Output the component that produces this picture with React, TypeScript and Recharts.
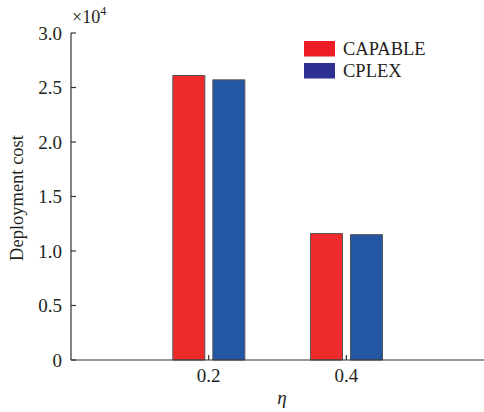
import React from "react";
import { BarChart, Bar, XAxis, YAxis } from "recharts";

const etaValues = [0.2, 0.4];
const capableCost = [26100, 11600];
const cplexCost = [25700, 11500];
const yTicks = [0, 5000, 10000, 15000, 20000, 25000, 30000];
const xTicks = [0.2, 0.4];
const seriesNames = ["CAPABLE", "CPLEX"];

const data = etaValues.map((eta, i) => ({
  eta,
  capable: capableCost[i],
  cplex: cplexCost[i],
}));

const FONT = "Liberation Serif";
const AXIS = "#333333";
const TEXT = "#231f20";
const RED = "#ee2a2a";
const BLUE = "#2357a3";
const LEGEND_COLORS = ["#ed1c24", "#2e3192"];

const YTick = (props: any) => {
  const { x, y, payload } = props;
  const v = payload.value as number;
  const label = v === 0 ? "0" : (v / 10000).toFixed(1);
  return (
    <g>
      <line x1={x} y1={y} x2={x + 5} y2={y} stroke={AXIS} strokeWidth={1.2} />
      <text
        x={x - 9}
        y={y}
        dy="0.35em"
        textAnchor="end"
        fontFamily={FONT}
        fontSize={19}
        fill={TEXT}
      >
        {label}
      </text>
    </g>
  );
};

const XTick = (props: any) => {
  const { x, y, payload } = props;
  return (
    <g>
      <line x1={x} y1={y} x2={x} y2={y - 5} stroke={AXIS} strokeWidth={1.2} />
      <text
        x={x}
        y={y + 22}
        textAnchor="middle"
        fontFamily={FONT}
        fontSize={19}
        fill={TEXT}
      >
        {payload.value.toFixed(1)}
      </text>
    </g>
  );
};

export default function App() {
  return (
    <div style={{ position: "absolute", left: 0, top: 0, width: 484, height: 412 }}>
      <BarChart
        width={484}
        height={412}
        data={data}
        margin={{ top: 33, right: 0, bottom: 0, left: 0 }}
        barSize={32}
        barGap={8}
      >
        <XAxis
          dataKey="eta"
          type="number"
          domain={[0, 0.6]}
          ticks={xTicks}
          height={52}
          axisLine={{ stroke: AXIS, strokeWidth: 1.2 }}
          tickLine={false}
          tickSize={0}
          tickMargin={0}
          tick={<XTick />}
          interval={0}
        />
        <YAxis
          type="number"
          domain={[0, 30000]}
          ticks={yTicks}
          width={71}
          axisLine={{ stroke: AXIS, strokeWidth: 1.2 }}
          tickLine={false}
          tickSize={0}
          tickMargin={0}
          tick={<YTick />}
          interval={0}
        />
        <Bar
          dataKey="capable"
          name={seriesNames[0]}
          fill={RED}
          stroke="#555"
          strokeWidth={1}
          isAnimationActive={false}
        />
        <Bar
          dataKey="cplex"
          name={seriesNames[1]}
          fill={BLUE}
          stroke="#555"
          strokeWidth={1}
          isAnimationActive={false}
        />
        {seriesNames.map((n, i) => (
          <g key={n}>
            <rect x={304} y={41 + i * 22} width={31} height={15.5} fill={LEGEND_COLORS[i]} />
            <text
              x={343}
              y={49 + i * 22}
              dy="0.35em"
              fontFamily={FONT}
              fontSize={18.5}
              fill={TEXT}
            >
              {n}
            </text>
          </g>
        ))}
        <text x={72} y={23} fontFamily={FONT} fontSize={18} fill={TEXT}>
          ×10
          <tspan dy={-8} fontSize={12}>4</tspan>
        </text>
        <text
          x={0}
          y={0}
          transform="translate(23,198) rotate(-90)"
          textAnchor="middle"
          fontFamily={FONT}
          fontSize={18.5}
          fill={TEXT}
        >
          Deployment cost
        </text>
        <text
          x={282}
          y={404}
          textAnchor="middle"
          fontFamily={FONT}
          fontStyle="italic"
          fontSize={19}
          fill={TEXT}
        >
          η
        </text>
      </BarChart>
    </div>
  );
}
